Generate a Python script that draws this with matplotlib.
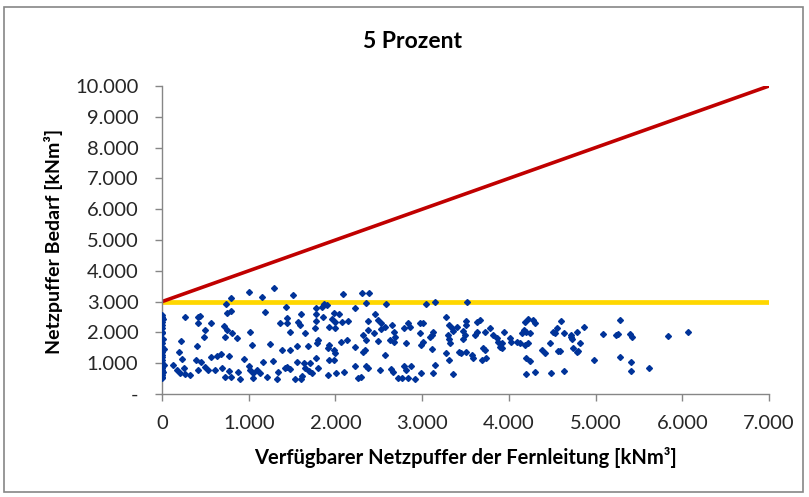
import matplotlib.pyplot as plt
from matplotlib.patches import Rectangle
from matplotlib.ticker import FuncFormatter

plt.rcParams['font.family'] = ['Lato', 'DejaVu Sans']

# scatter points (x: verfuegbar, y: Bedarf), kNm3
x_pts = [
    0, 0, 0, 0, 0, 0, 0, 0, 0, 0, 0, 0, 0, 0, 0, 0, 0, 0, 0, 0, 0, 0,
    10, 15, 20, 10, 25,
    1000, 1150, 1290, 800, 740, 790, 750, 260, 440, 420, 410, 560, 500, 480,
    720, 750, 810, 870, 730, 1010, 1190, 1040, 1240, 1360, 1440, 1380, 220,
    200, 400, 230, 390, 450, 500, 570, 630, 680, 770, 950, 1000, 1160, 1280,
    130, 170, 250, 210, 270, 320, 420, 530, 610, 690, 730, 770, 800, 880,
    900, 1010, 1050, 1090, 1130, 1050, 1210, 1340, 1330, 1420,
    1510, 2090, 2310, 2390, 2350, 2580, 1870, 1900, 1850, 1780, 2230, 1430,
    1600, 1770, 1440, 1570, 1590, 1780, 1860, 1980, 2040, 1960, 1990, 2080,
    2150, 1920, 1990, 1760, 1480, 1650, 1800, 1790, 1920, 2130, 2060, 1680,
    1560, 1480, 1910, 1980, 1990, 1920, 1980, 1780, 1560, 1640, 1710, 1650,
    1690, 1730, 1800, 1480, 1440, 1530, 1600, 1610, 1910, 2010, 2100, 2220,
    2320, 2340, 2350, 2320, 2370, 2490, 2440, 2380, 2460, 2490, 2530, 2570,
    2530, 2650, 2670, 2690, 2630, 2680, 2570, 2840, 2860, 2790, 2810, 2970,
    2970, 2990, 2220, 2260, 2290, 2380, 2350, 2510, 2640, 2660, 2790, 2810,
    2870, 2720, 2770, 2840, 2920, 2990,
    3040, 3150, 3520, 3280, 3010, 3130, 3110, 3090, 3010, 3110, 3150, 3120,
    3280, 3310, 3350, 3310, 3340, 3300, 3310, 3320, 3400, 3360, 3510, 3510,
    3470, 3490, 3470, 3420, 3450, 3500, 3570, 3590, 3630, 3670, 3630, 3610,
    3720, 3780, 3700, 3720, 3690, 3740, 3820, 3860, 3880, 3920, 3940, 3900,
    3920, 4010, 4030, 4090, 4150, 4170, 4190, 4220, 4280, 4300, 4200, 4240,
    4130, 4190, 4220, 4200, 4240, 4200, 4300, 4380, 4420, 4470, 4510, 4550,
    4490, 4570,
    4600, 4530, 4630, 4720, 4720, 4730, 4780, 4870, 4820, 4740, 4800, 4790,
    4590, 4980, 4640, 5080, 5230, 5260, 5280, 5280, 5400, 5420, 5410, 5410,
    5620, 5840, 6060,
]
y_pts = [
    2565, 2457, 2348, 2240, 2132, 2024, 1970, 1645, 1537, 1375, 1266, 1104,
    996, 887, 779, 671, 563, 509, 2500, 1200, 840, 620,
    2430, 1800, 950, 700, 1450,
    3320, 3160, 3430, 3110, 2920, 2710, 2640, 2510, 2530, 2490, 2290, 2290,
    2080, 1840, 2210, 2080, 1990, 1810, 1840, 2020, 2650, 1590, 1620, 2290,
    2290, 1430, 1730, 1380, 1570, 1140, 1100, 1050, 870, 1210, 1230, 1300,
    1230, 1140, 910, 1050, 1080, 940, 780, 830, 670, 640, 620, 780, 780, 780,
    830, 560, 750, 560, 720, 500, 780, 670, 780, 670, 510, 560, 720, 500, 830,
    3210, 3250, 3290, 3290, 2970, 2920, 2920, 2890, 2840, 2780, 2780, 2810,
    2590, 2590, 2460, 2350, 2240, 2370, 2490, 2640, 2590, 2420, 2350, 2350,
    2370, 2190, 2130, 2130, 2020, 1970, 1750, 1650, 1590, 1750, 1700, 1560,
    1560, 1430, 1480, 1430, 1320, 1100, 1100, 1160, 1050, 1000, 1020, 830,
    760, 690, 830, 800, 890, 500, 500, 580, 620, 690, 720, 1540,
    1380, 1430, 1750, 1920, 2080, 1730, 1990, 2380, 2600, 2400, 2320, 2190,
    2100, 2240, 2020, 1860, 1750, 1700, 1270, 2290, 2190, 2130, 1650, 2290,
    1970, 1590, 910, 510, 560, 830, 910, 780, 800, 720, 910, 780,
    910, 510, 510, 510, 500, 690,
    2920, 3000, 3000, 2510, 2320, 2020, 1920, 1840, 1700, 1450, 940, 670,
    1320, 1100, 650, 2240, 2130, 1920, 1780, 1670, 2170, 2060, 2380, 2240,
    2060, 1920, 1780, 1380, 1320, 1380, 1270, 1160, 2350, 2400, 2020, 1920,
    2020, 2130, 1480, 1430, 1100, 1160, 1920, 1810, 1700, 1650, 2020, 1540,
    1480, 1810, 1700, 1700, 1970, 2080, 2350, 2420, 2400, 2320, 2020, 1970,
    1650, 1590, 1650, 1160, 1070, 640, 720, 1430, 1320, 1650, 2020, 2130,
    690, 1410,
    2370, 1970, 1990, 1920, 1840, 1780, 2020, 2170, 1670, 1510, 1410, 1350,
    1400, 1100, 760, 1950, 1920, 1950, 2400, 1210, 1940, 1840, 1030, 760,
    860, 1880, 2020,
]

# reference lines
red_x = [0, 7000]
red_y = [3000, 10000]
yellow_x = [0, 7000]
yellow_y = [3000, 3000]

x_ticks = [0, 1000, 2000, 3000, 4000, 5000, 6000, 7000]
y_ticks = [0, 1000, 2000, 3000, 4000, 5000, 6000, 7000, 8000, 9000, 10000]


def thousands(v, pos):
    return '{:,.0f}'.format(v).replace(',', '.')


def y_fmt(v, pos):
    if v == 0:
        return '-'
    return thousands(v, pos)


fig = plt.figure(figsize=(8.09, 4.97), dpi=100)
ax = fig.add_axes([0.2003, 0.2072, 0.7503, 0.6198])

ax.plot(yellow_x, yellow_y, color='#FFD700', lw=3.4, zorder=2)
ax.plot(red_x, red_y, color='#C00000', lw=2.6, zorder=2)
ax.plot(x_pts, y_pts, ls='none', marker='D', ms=3.0, color='#003399',
        mec='#003399', zorder=3)

ax.set_xlim(0, 7000)
ax.set_ylim(0, 10000)
ax.set_xticks(x_ticks)
ax.set_yticks(y_ticks)
ax.xaxis.set_major_formatter(FuncFormatter(lambda v, p: '0' if v == 0 else thousands(v, p)))
ax.yaxis.set_major_formatter(FuncFormatter(y_fmt))

for s in ['top', 'right']:
    ax.spines[s].set_visible(False)
for s in ['left', 'bottom']:
    ax.spines[s].set_color('#868686')
    ax.spines[s].set_linewidth(1.0)
ax.tick_params(direction='out', length=5, width=1, color='#868686',
               labelsize=14.5, labelcolor='#262626')
ax.tick_params(axis='y', pad=12)
ax.tick_params(axis='x', pad=10)

fig.text(0.575, 0.0785, 'Verfügbarer Netzpuffer der Fernleitung [kNm³]',
         ha='center', va='center', fontsize=14.5, fontweight='bold')
fig.text(0.0667, 0.514, 'Netzpuffer Bedarf [kNm³]', ha='center', va='center',
         rotation=90, fontsize=14, fontweight='bold')
fig.text(0.5105, 0.9155, '5 Prozent', ha='center', va='center', fontsize=16.5,
         fontweight='bold')

# chart border
fig.patches.append(Rectangle((0.005, 0.01), 0.988, 0.975, transform=fig.transFigure,
                             fill=False, edgecolor='#868686', lw=1.2))

fig.savefig('out.png', dpi=100)
